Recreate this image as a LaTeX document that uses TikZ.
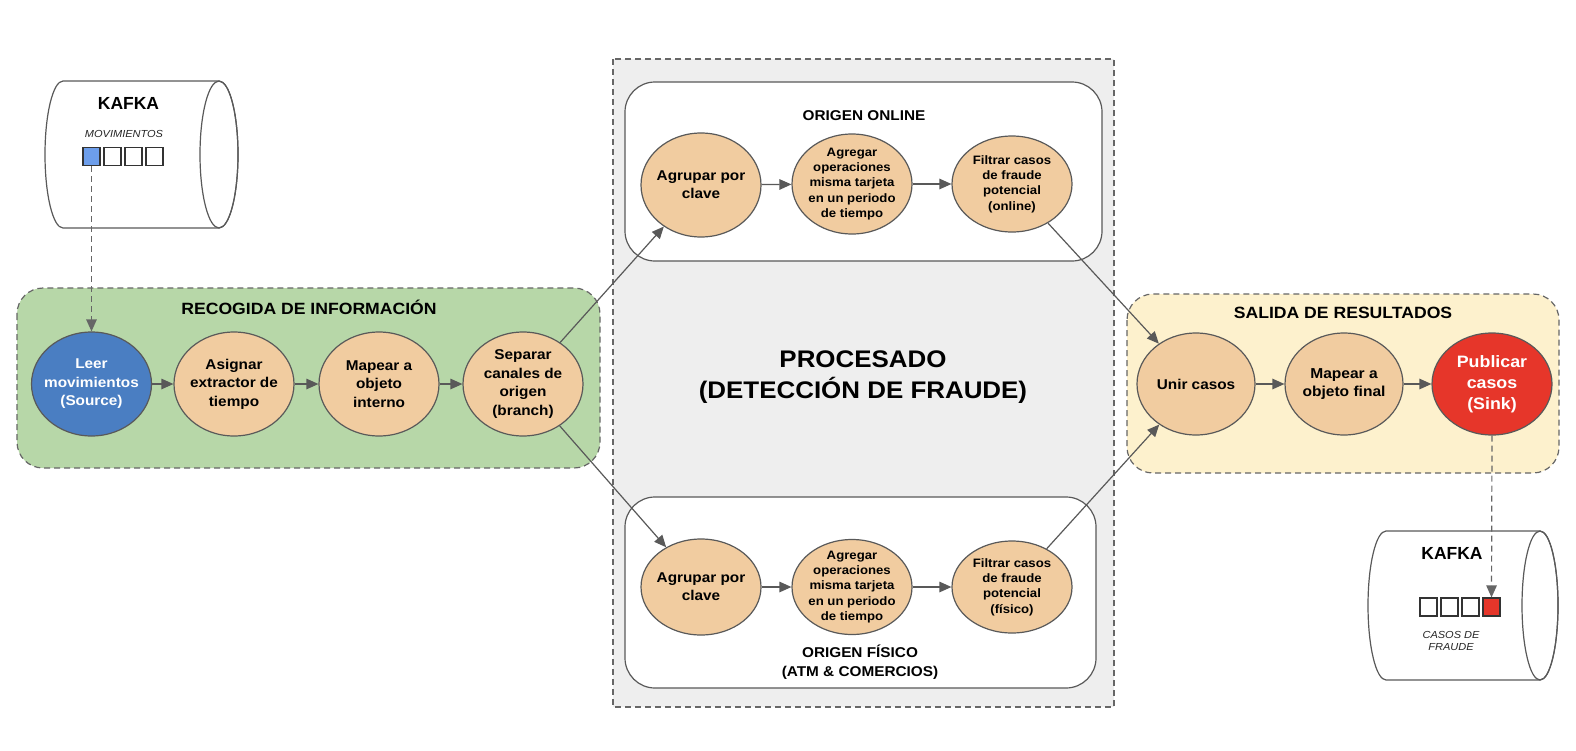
\documentclass[tikz,border=0pt]{standalone}
\usepackage{fontspec}
\setmainfont{Liberation Sans}[FakeStretch=1.08]
\newfontfamily\plainsans{Liberation Sans}
\usetikzlibrary{shapes.geometric,arrows.meta}
\definecolor{lineC}{HTML}{595959}
\definecolor{dashC}{HTML}{666666}
\definecolor{peach}{HTML}{F1CCA0}
\definecolor{greenbg}{HTML}{B7D7A8}
\definecolor{yellowbg}{HTML}{FDF1CD}
\definecolor{graybg}{HTML}{EEEEEE}
\definecolor{blueN}{HTML}{4A7EC2}
\definecolor{blueSq}{HTML}{6D9EEB}
\definecolor{redN}{HTML}{E6362A}
\tikzset{
  proc/.style={ellipse, draw=lineC, line width=1.2pt, fill=peach, minimum width=120pt, minimum height=104pt, inner xsep=-20pt, inner ysep=-20pt, align=center, text=black, font=\bfseries\fontsize{14.2}{18.5}\selectfont},
  small/.style={font=\bfseries\fontsize{12.2}{15.3}\selectfont},
  arr/.style={draw=lineC, line width=1.2pt, -{Triangle[length=12pt,width=10.5pt]}},
  darr/.style={draw=dashC, line width=1.2pt, dash pattern=on 6pt off 4pt, -{Triangle[length=12pt,width=10.5pt]}},
  dbox/.style={draw=dashC, line width=1.2pt, dash pattern=on 6pt off 4pt},
  sbox/.style={draw=lineC, line width=1.2pt, fill=white, rounded corners=30pt},
  cyl/.style={draw=lineC, line width=1.2pt},
  sq/.style={draw=black!80, line width=1.2pt, fill=white, minimum width=17pt, minimum height=18pt, inner sep=0pt},
  title/.style={font=\bfseries\fontsize{16.3}{20}\selectfont, align=center, inner sep=0pt},
  subtitle/.style={font=\bfseries\fontsize{14.2}{19}\selectfont, align=center, inner sep=0pt},
  ital/.style={font=\itshape\fontsize{10.2}{11.5}\selectfont, align=center, inner sep=0pt, text=black!85},
  kafka/.style={font=\plainsans\bfseries\fontsize{17.5}{20}\selectfont, inner sep=0pt},
}
\begin{document}
\begin{tikzpicture}[x=1pt,y=-1pt]
\useasboundingbox (0,0) rectangle (1576,750);

% ---------- background boxes ----------
\fill[graybg] (613,59) rectangle (1114,707);
\draw[dbox] (613,59) rectangle (1114,707);
\draw[sbox] (625,82) rectangle (1102,261);
\draw[sbox] (625,497) rectangle (1096,688);
\draw[dbox, fill=greenbg, rounded corners=26pt] (17,288) rectangle (600,468);
\draw[dbox, fill=yellowbg, rounded corners=26pt] (1127,294) rectangle (1559,473);

% ---------- top kafka cylinder ----------
\draw[cyl, fill=white] (63,81) -- (219,81) arc[start angle=-90,end angle=90,x radius=19,y radius=73.5] -- (63,228) arc[start angle=90,end angle=270,x radius=18,y radius=73.5] -- cycle;
\draw[cyl] (219,154.5) ellipse [x radius=19, y radius=73.5];
\node[kafka] (kafka1) at (128.5,103) {KAFKA};
\node[ital] (mov) at (124,134) {MOVIMIENTOS};
\node[sq, fill=blueSq] (s1a) at (91.5,156.5) {};
\node[sq] (s1b) at (112.5,156.5) {};
\node[sq] (s1c) at (133.5,156.5) {};
\node[sq] (s1d) at (154.5,156.5) {};

% ---------- bottom kafka cylinder ----------
\draw[cyl, fill=white] (1386,531) -- (1540,531) arc[start angle=-90,end angle=90,x radius=18,y radius=74.5] -- (1386,680) arc[start angle=90,end angle=270,x radius=18,y radius=74.5] -- cycle;
\draw[cyl] (1540,605.5) ellipse [x radius=18, y radius=74.5];
\node[kafka] (kafka2) at (1452,553) {KAFKA};
\node[sq] (s2a) at (1428.5,607) {};
\node[sq] (s2b) at (1449.5,607) {};
\node[sq] (s2c) at (1470.5,607) {};
\node[sq, fill=redN] (s2d) at (1491.5,607) {};
\node[ital] (casos) at (1451,641) {CASOS DE\\FRAUDE};

% ---------- titles ----------
\node[title] (tRec) at (309,307) {RECOGIDA DE INFORMACIÓN};
\node[subtitle] (tOn) at (864,116) {ORIGEN ONLINE};
\node[subtitle] (tFi) at (860,662) {ORIGEN FÍSICO\\(ATM \& COMERCIOS)};
\node[title] (tSal) at (1343,313) {SALIDA DE RESULTADOS};
\node[font=\bfseries\fontsize{24}{31}\selectfont, align=center, inner sep=0pt] (tProc) at (863,377) {PROCESADO\\(DETECCIÓN DE FRAUDE)};

% ---------- green stage ----------
\node[proc, fill=blueN, text=white] (leer) at (91.5,384) {Leer\\movimientos\\(Source)};
\node[proc] (asig) at (234,384) {Asignar\\extractor de\\tiempo};
\node[proc] (mape) at (379,384) {Mapear a\\objeto\\interno};
\node[proc] (sepa) at (523,384) {Separar\\canales de\\origen\\(branch)};

% ---------- online branch ----------
\node[proc, font=\bfseries\fontsize{14.2}{18}\selectfont] (agr1) at (701,185) {Agrupar por\\clave};
\node[proc, small, minimum height=100pt] (agg1) at (852,184) {Agregar\\operaciones\\misma tarjeta\\en un periodo\\de tiempo};
\node[proc, small, minimum height=96pt] (fil1) at (1012,184) {Filtrar casos\\de fraude\\potencial\\(online)};

% ---------- physical branch ----------
\node[proc, minimum height=96pt, font=\bfseries\fontsize{14.2}{18}\selectfont] (agr2) at (701,587) {Agrupar por\\clave};
\node[proc, small, minimum height=95pt] (agg2) at (852,587) {Agregar\\operaciones\\misma tarjeta\\en un periodo\\de tiempo};
\node[proc, small, minimum height=92pt] (fil2) at (1012,587) {Filtrar casos\\de fraude\\potencial\\(físico)};

% ---------- output stage ----------
\node[proc, minimum width=118pt, minimum height=102pt] (unir) at (1196,384) {Unir casos};
\node[proc, minimum width=118pt, minimum height=102pt, font=\bfseries\fontsize{14.4}{18.5}\selectfont] (mapf) at (1344,384) {Mapear a\\objeto final};
\node[proc, fill=redN, text=white, minimum width=120pt, minimum height=102pt, font=\bfseries\fontsize{16.5}{21}\selectfont] (publ) at (1492,384) {Publicar\\casos\\(Sink)};

% ---------- connectors ----------
\draw[darr] (s1a.south) -- (leer.north);
\draw[arr] (leer) -- (asig);
\draw[arr] (asig) -- (mape);
\draw[arr] (mape) -- (sepa);
\draw[arr] (sepa) -- (agr1);
\draw[arr] (sepa) -- (agr2);
\draw[arr] (agr1) -- (agg1);
\draw[arr] (agg1) -- (fil1);
\draw[arr] (agr2) -- (agg2);
\draw[arr] (agg2) -- (fil2);
\draw[arr] (fil1) -- (unir);
\draw[arr] (fil2) -- (unir);
\draw[arr] (unir) -- (mapf);
\draw[arr] (mapf) -- (publ);
\draw[darr] (publ.south) -- (s2d.north);
\end{tikzpicture}
\end{document}
